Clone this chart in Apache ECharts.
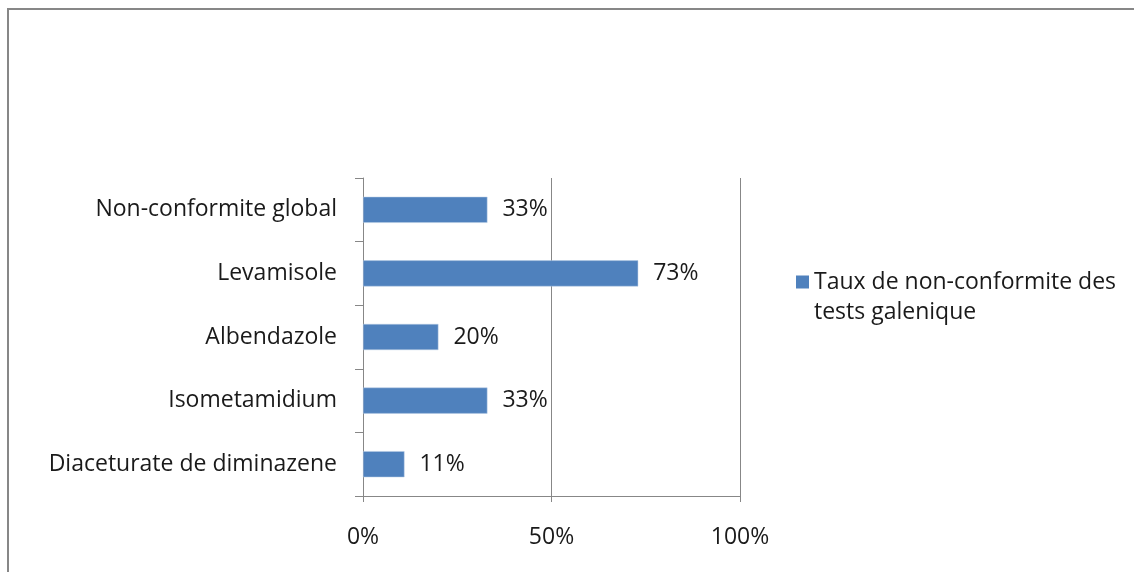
<!DOCTYPE html>
<html>
<head>
<meta charset="utf-8">
<script src="https://cdn.jsdelivr.net/npm/echarts@6/dist/echarts.min.js"></script>
<style>
html,body{margin:0;padding:0;background:#fff;}
#chart{width:1134px;height:572px;}
</style>
</head>
<body>
<div id="chart"></div>
<script>
const categories = ["Non-conformite global", "Levamisole", "Albendazole", "Isometamidium", "Diaceturate de diminazene"];
const values = [33, 73, 20, 33, 11];
const seriesName = "Taux de non-conformite des tests galenique";
const xTicks = [0, 50, 100];

const FONT = "Open Sans";
const FS = 23;
const chart = echarts.init(document.getElementById('chart'), null, {renderer: 'canvas'});
chart.setOption({
  animation: false,
  backgroundColor: '#ffffff',
  textStyle: {fontFamily: FONT},
  graphic: [{
    type: 'rect', silent: true,
    shape: {x: 8, y: 9, width: 1200, height: 700},
    style: {fill: 'none', stroke: '#878787', lineWidth: 2}
  }],
  grid: {left: 363, right: 394, top: 178, bottom: 76},
  legend: {
    show: true,
    left: 796, top: 237,
    padding: 0,
    orient: 'vertical',
    itemWidth: 13, itemHeight: 13, itemGap: 6,
    icon: 'rect',
    itemStyle: {borderWidth: 0, color: '#4f81bd'},
    formatter: function () { return "{a|}\n{a|Taux de non-conformite des}\n{a|tests galenique}"; },
    textStyle: {
      fontFamily: FONT, fontSize: FS, color: '#1a1a1a',
      rich: {a: {fontFamily: FONT, fontSize: FS, color: '#1a1a1a', lineHeight: 30, height: 30}}
    },
    data: [seriesName]
  },
  xAxis: {
    type: 'value', min: 0, max: 100, interval: 50,
    axisLine: {show: true, lineStyle: {color: '#878787', width: 1}},
    axisTick: {show: true, length: 6, lineStyle: {color: '#878787'}},
    splitLine: {show: true, lineStyle: {color: '#878787', width: 1}},
    axisLabel: {formatter: '{value}%', fontFamily: FONT, fontSize: FS, color: '#1a1a1a', margin: 30}
  },
  yAxis: {
    type: 'category', data: categories, inverse: true,
    axisLine: {show: true, lineStyle: {color: '#878787', width: 1}},
    axisTick: {show: true, inside: false, length: 8, lineStyle: {color: '#878787'}},
    axisLabel: {fontFamily: FONT, fontSize: FS, color: '#1a1a1a', margin: 26}
  },
  series: [{
    name: seriesName,
    type: 'bar',
    data: values,
    barCategoryGap: '59%',
    itemStyle: {color: '#4f81bd', borderColor: '#b9cde5', borderWidth: 0.5},
    label: {show: true, position: 'right', distance: 15, formatter: '{c}%', fontFamily: FONT, fontSize: FS, color: '#1a1a1a'}
  }]
});
</script>
</body>
</html>
